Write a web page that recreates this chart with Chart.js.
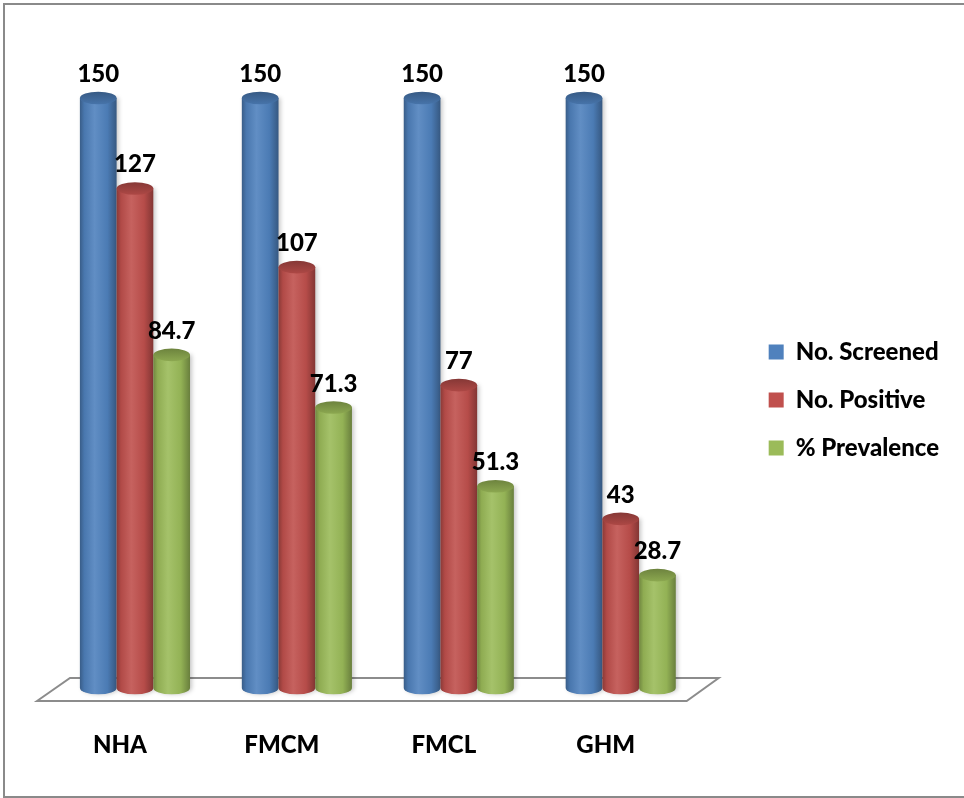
<!DOCTYPE html>
<html>
<head>
<meta charset="utf-8">
<title>Screening results by site</title>
<script src="https://cdn.jsdelivr.net/npm/chart.js@4.4.1/dist/chart.umd.min.js"></script>
<style>
  html, body { margin: 0; padding: 0; background: #ffffff; }
  #wrap { position: relative; width: 964px; height: 798px; overflow: hidden; }
  #frame {
    position: absolute; left: 3px; top: 3px; width: 1000px; height: 795px;
    border: 2px solid #8a8a8a; border-right: none; box-sizing: border-box;
  }
  #chart { position: absolute; left: 0; top: 0; }
</style>
</head>
<body>
<div id="wrap">
  <div id="frame"></div>
  <canvas id="chart" width="964" height="798"></canvas>
</div>
<script>
// Sites and results
const categories = ['NHA', 'FMCM', 'FMCL', 'GHM'];
const screened   = [150, 150, 150, 150];
const positive   = [127, 107, 77, 43];
const prevalence = [84.7, 71.3, 51.3, 28.7];
const seriesNames = ['No. Screened', 'No. Positive', '% Prevalence'];

// Look
const seriesColors = ['#4F81BD', '#C0504D', '#9BBB59'];
const FONT = 'Lato';
const FONT_SIZE = 24;
const FONT_WEIGHT = '900';

// lighten (f>0) or darken (f<0) a hex colour
function shade(hex, f) {
  const n = parseInt(hex.slice(1), 16);
  let c = [(n >> 16) & 255, (n >> 8) & 255, n & 255];
  c = c.map(v => f < 0 ? Math.round(v * (1 + f)) : Math.round(v + (255 - v) * f));
  return 'rgb(' + c.join(',') + ')';
}

// 3D floor + cylinders + value labels, placed from the bar elements
const cylinderPlugin = {
  id: 'cylinders',
  beforeDatasetsDraw(chart) {
    const ctx = chart.ctx;
    const { left, right } = chart.chartArea;
    const base = chart.scales.y.getPixelForValue(0);

    // floor
    ctx.save();
    ctx.beginPath();
    ctx.moveTo(left - 17, base + 13);
    ctx.lineTo(left + 16, base - 10);
    ctx.lineTo(right + 17, base - 10);
    ctx.lineTo(right - 15, base + 13);
    ctx.closePath();
    ctx.fillStyle = '#ffffff';
    ctx.fill();
    ctx.lineWidth = 2;
    ctx.strokeStyle = '#8c8c8c';
    ctx.stroke();
    ctx.restore();

    const labels = [];
    chart.data.datasets.forEach((ds, di) => {
      const meta = chart.getDatasetMeta(di);
      const col = seriesColors[di];
      meta.data.forEach((el, i) => {
        const { x, y, base: b, width: w } = el.getProps(['x', 'y', 'base', 'width'], true);
        const rx = w / 2, ry = 6.3;
        const l = x - rx, r = x + rx;

        ctx.save();
        ctx.shadowColor = 'rgba(0,0,0,0.22)';
        ctx.shadowBlur = 4;
        ctx.shadowOffsetX = 2;
        const g = ctx.createLinearGradient(l, 0, r, 0);
        g.addColorStop(0, shade(col, -0.28));
        g.addColorStop(0.12, shade(col, -0.08));
        g.addColorStop(0.4, shade(col, 0.1));
        g.addColorStop(0.75, shade(col, -0.05));
        g.addColorStop(1, shade(col, -0.32));
        ctx.beginPath();
        ctx.moveTo(l, y);
        ctx.lineTo(l, b);
        ctx.ellipse(x, b, rx, ry, 0, Math.PI, 0, true);
        ctx.lineTo(r, y);
        ctx.closePath();
        ctx.fillStyle = g;
        ctx.fill();
        ctx.restore();

        // top face
        const gt = ctx.createLinearGradient(0, y - ry, 0, y + ry);
        gt.addColorStop(0, shade(col, -0.3));
        gt.addColorStop(1, shade(col, -0.1));
        ctx.beginPath();
        ctx.ellipse(x, y, rx, ry, 0, 0, Math.PI * 2);
        ctx.fillStyle = gt;
        ctx.fill();

        labels.push({ x, y, v: ds.data[i] });
      });
    });

    ctx.save();
    ctx.font = FONT_WEIGHT + ' ' + FONT_SIZE + 'px ' + FONT;
    ctx.fillStyle = '#000000';
    ctx.textAlign = 'center';
    ctx.textBaseline = 'alphabetic';
    labels.forEach(p => ctx.fillText(String(p.v), p.x, p.y - 16));
    ctx.restore();
    return false;
  }
};

function build() {
  const values = [screened, positive, prevalence];
  new Chart(document.getElementById('chart'), {
    type: 'bar',
    data: {
      labels: categories,
      datasets: seriesNames.map((name, k) => ({
        label: name,
        data: values[k],
        backgroundColor: seriesColors[k],
        borderWidth: 0
      }))
    },
    options: {
      responsive: false,
      animation: false,
      devicePixelRatio: 1,
      categoryPercentage: 0.68,
      barPercentage: 1,
      layout: { padding: { left: 54, top: 98, right: 15, bottom: 10 } },
      scales: {
        x: {
          grid: { display: false, drawTicks: false },
          border: { display: false },
          ticks: {
            padding: 28.6,
            labelOffset: -15,
            color: '#000000',
            font: { family: FONT, size: FONT_SIZE, weight: FONT_WEIGHT }
          }
        },
        y: {
          display: false,
          min: -3.56,
          max: 150
        },
        gap: {
          type: 'linear',
          position: 'right',
          grid: { display: false },
          border: { display: false },
          ticks: { display: false },
          afterFit(s) { s.width = 43; }
        }
      },
      plugins: {
        legend: {
          position: 'right',
          fullSize: false,
          labels: {
            boxWidth: 15,
            boxHeight: 15,
            padding: 24,
            color: '#000000',
            font: { family: FONT, size: FONT_SIZE, weight: FONT_WEIGHT }
          }
        },
        tooltip: { enabled: false }
      }
    },
    plugins: [cylinderPlugin]
  });
}

if (document.fonts && document.fonts.load) {
  document.fonts.load(FONT_WEIGHT + ' ' + FONT_SIZE + 'px ' + FONT).then(build, build);
} else {
  build();
}
</script>
</body>
</html>
